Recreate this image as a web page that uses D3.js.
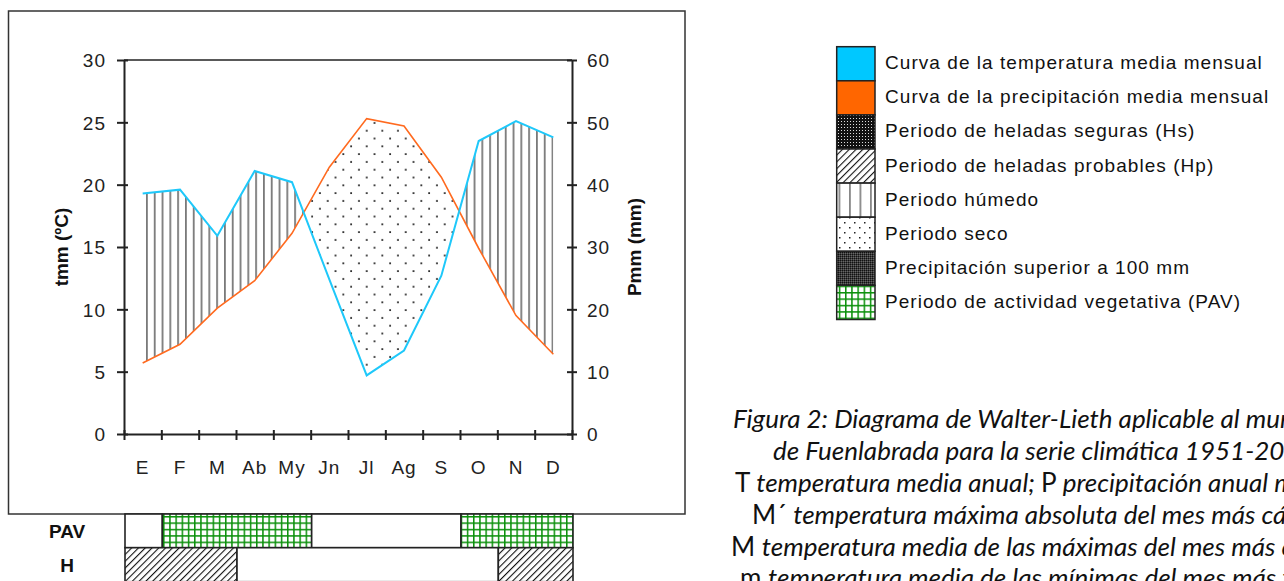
<!DOCTYPE html>
<html>
<head>
<meta charset="utf-8">
<script src="https://cdn.jsdelivr.net/npm/d3@7"></script>
<style>
  body { margin: 0; background: #fff; overflow: hidden; }
  svg { display: block; }
</style>
</head>
<body>
<svg id="chart" width="1284" height="581"></svg>
<script>
// Walter-Lieth diagram, Fuenlabrada

const months = ['E', 'F', 'M', 'Ab', 'My', 'Jn', 'Jl', 'Ag', 'S', 'O', 'N', 'D'];
// blue curve, left axis (tmm, ºC)
const temp = [19.3, 19.6, 15.9, 21.1, 20.2, 12.4, 4.7, 6.7, 12.7, 23.5, 25.1, 23.8];
// orange curve, right axis (Pmm, mm)
const precip = [11.4, 14.4, 20.2, 24.6, 32.2, 42.8, 50.6, 49.4, 41.2, 29.8, 19.0, 12.8];
const leftTicks = [0, 5, 10, 15, 20, 25, 30];
const rightTicks = [0, 10, 20, 30, 40, 50, 60];
// bottom strips: 1 = period active in that month
const pav = [0, 1, 1, 1, 1, 0, 0, 0, 0, 1, 1, 1];
const hp = [1, 1, 1, 0, 0, 0, 0, 0, 0, 0, 1, 1];

const legendLabels = [
  'Curva de la temperatura media mensual',
  'Curva de la precipitación media mensual',
  'Periodo de heladas seguras (Hs)',
  'Periodo de heladas probables (Hp)',
  'Periodo húmedo',
  'Periodo seco',
  'Precipitación superior a 100 mm',
  'Periodo de actividad vegetativa (PAV)'
];
const legendFills = ['#00c8ff', '#ff6600', 'url(#lgHs)', 'url(#hatch)', 'url(#lgHum)', 'url(#lgSeco)', 'url(#lgP100)', 'url(#grid)'];

const caption = [
  [['i', 'Figura 2: Diagrama de Walter-Lieth aplicable al municipio']],
  [['i', 'de Fuenlabrada para la serie climática 1951-2010']],
  [['n', 'T '], ['i', 'temperatura media anual; '], ['n', 'P '], ['i', 'precipitación anual media']],
  [['n', 'M´ '], ['i', 'temperatura máxima absoluta del mes más cálido']],
  [['n', 'M '], ['i', 'temperatura media de las máximas del mes más cálido']],
  [['n', 'm '], ['i', 'temperatura media de las mínimas del mes más frío']]
];
const captionX = [733, 773, 735, 752, 731, 740];

const svg = d3.select('#chart');
const font = "'Liberation Sans', Arial, sans-serif";

// scales
const x0 = 124, x1 = 572, yTop = 60, yBot = 434;
const xl = d3.scaleLinear().domain([0, 12]).range([x0, x1]);
const xb = d3.scaleBand().domain(months).range([x0, x1]);
const xc = i => xl(i + 0.5);
const yL = d3.scaleLinear().domain([0, 30]).range([yBot, yTop]);
const yR = d3.scaleLinear().domain([0, 60]).range([yBot, yTop]);

// patterns
const defs = svg.append('defs');

const pv = defs.append('pattern').attr('id', 'vlines').attr('patternUnits', 'userSpaceOnUse')
  .attr('x', 146).attr('y', 0).attr('width', 7.8).attr('height', 10);
pv.append('rect').attr('x', 0).attr('width', 1.8).attr('height', 10).attr('fill', '#7a7a7a');

const pd = defs.append('pattern').attr('id', 'dots').attr('patternUnits', 'userSpaceOnUse')
  .attr('x', 365.7).attr('y', 129.7).attr('width', 15.6).attr('height', 15.6);
pd.append('rect').attr('x', 0.2).attr('y', 0.2).attr('width', 1.7).attr('height', 1.7).attr('fill', '#111');
pd.append('rect').attr('x', 8).attr('y', 8).attr('width', 1.7).attr('height', 1.7).attr('fill', '#111');

const pg = defs.append('pattern').attr('id', 'grid').attr('patternUnits', 'userSpaceOnUse')
  .attr('x', 163).attr('y', 516).attr('width', 6.2).attr('height', 6.4);
pg.append('rect').attr('width', 6.2).attr('height', 6.4).attr('fill', '#fff');
pg.append('rect').attr('width', 1.5).attr('height', 6.4).attr('fill', '#0a900a');
pg.append('rect').attr('width', 6.2).attr('height', 1.5).attr('fill', '#0a900a');

const ph = defs.append('pattern').attr('id', 'hatch').attr('patternUnits', 'userSpaceOnUse')
  .attr('width', 4.8).attr('height', 10).attr('patternTransform', 'rotate(45)');
ph.append('rect').attr('width', 4.8).attr('height', 10).attr('fill', '#fff');
ph.append('rect').attr('width', 1.1).attr('height', 10).attr('fill', '#111');

const pHs = defs.append('pattern').attr('id', 'lgHs').attr('patternUnits', 'userSpaceOnUse')
  .attr('width', 3).attr('height', 3);
pHs.append('rect').attr('width', 3).attr('height', 3).attr('fill', '#111');
pHs.append('rect').attr('x', 1).attr('y', 1).attr('width', 1).attr('height', 1).attr('fill', '#ddd');

const pHum = defs.append('pattern').attr('id', 'lgHum').attr('patternUnits', 'userSpaceOnUse')
  .attr('x', 838.5).attr('width', 10.5).attr('height', 10);
pHum.append('rect').attr('width', 10.5).attr('height', 10).attr('fill', '#fff');
pHum.append('rect').attr('width', 1.8).attr('height', 10).attr('fill', '#888');

const pSeco = defs.append('pattern').attr('id', 'lgSeco').attr('patternUnits', 'userSpaceOnUse')
  .attr('x', 838).attr('y', 216).attr('width', 10).attr('height', 10);
pSeco.append('rect').attr('width', 10).attr('height', 10).attr('fill', '#fff');
pSeco.append('rect').attr('x', 1).attr('y', 1).attr('width', 1.5).attr('height', 1.5).attr('fill', '#222');
pSeco.append('rect').attr('x', 6).attr('y', 6).attr('width', 1.5).attr('height', 1.5).attr('fill', '#222');

const pP = defs.append('pattern').attr('id', 'lgP100').attr('patternUnits', 'userSpaceOnUse')
  .attr('width', 2).attr('height', 2);
pP.append('rect').attr('width', 2).attr('height', 2).attr('fill', '#3a3a3a');
pP.append('rect').attr('width', 1).attr('height', 1).attr('fill', '#111');
pP.append('rect').attr('x', 1).attr('y', 1).attr('width', 1).attr('height', 1).attr('fill', '#666');

// clip regions above / below the orange curve
const idx = d3.range(months.length);
const above = d3.area().x(i => xc(i)).y0(0).y1(i => yR(precip[i]));
const below = d3.area().x(i => xc(i)).y0(i => yR(precip[i])).y1(581);
defs.append('clipPath').attr('id', 'clipAbove').append('path').attr('d', above(idx));
defs.append('clipPath').attr('id', 'clipBelow').append('path').attr('d', below(idx));

// outer frame
svg.append('rect').attr('x', 8.5).attr('y', 11).attr('width', 676.5).attr('height', 503)
  .attr('fill', 'none').attr('stroke', '#333').attr('stroke-width', 1.5);

// humid / dry fills between the two curves
const between = d3.area().x(i => xc(i)).y0(i => yR(precip[i])).y1(i => yL(temp[i]));
svg.append('path').attr('d', between(idx)).attr('fill', 'url(#vlines)').attr('clip-path', 'url(#clipAbove)');
svg.append('path').attr('d', between(idx)).attr('fill', 'url(#dots)').attr('clip-path', 'url(#clipBelow)');

// curves
svg.append('path').datum(idx)
  .attr('d', d3.line().x(i => xc(i)).y(i => yR(precip[i])))
  .attr('fill', 'none').attr('stroke', '#ff6a1f').attr('stroke-width', 1.6);
svg.append('path').datum(idx)
  .attr('d', d3.line().x(i => xc(i)).y(i => yL(temp[i])))
  .attr('fill', 'none').attr('stroke', '#1ec8fa').attr('stroke-width', 2);

// plot box top line
svg.append('line').attr('x1', x0).attr('x2', x1).attr('y1', yTop).attr('y2', yTop)
  .attr('stroke', '#222').attr('stroke-width', 1.6);

function styleAxis(g) {
  g.select('.domain').attr('stroke', '#222').attr('stroke-width', 2);
  g.selectAll('.tick line').attr('stroke', '#222').attr('stroke-width', 2);
  g.selectAll('text').attr('font-family', font).attr('font-size', 19)
    .attr('letter-spacing', 1).attr('fill', '#222');
}

// left axis
const gl = svg.append('g').attr('transform', `translate(${x0},0)`)
  .call(d3.axisLeft(yL).tickValues(leftTicks).tickSize(7).tickPadding(11).tickSizeOuter(0));
styleAxis(gl);
gl.selectAll('.tick line').attr('x1', 4);
gl.selectAll('.tick text').attr('dy', '0.36em');

// right axis
const gr = svg.append('g').attr('transform', `translate(${x1},0)`)
  .call(d3.axisRight(yR).tickValues(rightTicks).tickSize(5).tickPadding(10).tickSizeOuter(0));
styleAxis(gr);
gr.selectAll('.tick line').attr('x1', -5);
gr.selectAll('.tick text').attr('dy', '0.36em');

// bottom axis: ticks at month boundaries, labels at month centres
const gb = svg.append('g').attr('transform', `translate(0,${yBot})`)
  .call(d3.axisBottom(xl).tickValues(d3.range(13)).tickFormat('').tickSize(6).tickSizeOuter(0));
styleAxis(gb);
gb.selectAll('.tick line').attr('y1', -4);
const gm = svg.append('g').attr('transform', `translate(0,${yBot})`)
  .call(d3.axisBottom(xb).tickSize(0).tickPadding(27));
gm.select('.domain').remove();
styleAxis(gm);

// axis titles
svg.append('text').attr('transform', 'translate(68,247) rotate(-90)')
  .attr('text-anchor', 'middle').attr('font-family', font).attr('font-weight', 'bold')
  .attr('font-size', 19).attr('fill', '#111').text('tmm (ºC)');
svg.append('text').attr('transform', 'translate(641,247) rotate(-90)')
  .attr('text-anchor', 'middle').attr('font-family', font).attr('font-weight', 'bold')
  .attr('font-size', 19).attr('fill', '#111').text('Pmm (mm)');

// bottom strips PAV / H
function runs(arr) {
  const out = [];
  arr.forEach((v, i) => {
    if (out.length && out[out.length - 1].v === v) out[out.length - 1].end = i + 1;
    else out.push({ v, start: i, end: i + 1 });
  });
  return out;
}
const strips = [
  { label: 'PAV', data: pav, fill: 'url(#grid)', y: 514, h: 33.7 },
  { label: 'H', data: hp, fill: 'url(#hatch)', y: 547.7, h: 34 }
];
strips.forEach(s => {
  svg.append('g').selectAll('rect').data(runs(s.data)).join('rect')
    .attr('x', d => xl(d.start) + 1).attr('width', d => xl(d.end) - xl(d.start))
    .attr('y', s.y).attr('height', s.h)
    .attr('fill', d => d.v ? s.fill : '#fff')
    .attr('stroke', '#222').attr('stroke-width', 1.6);
  svg.append('text').attr('x', 67).attr('y', s.y + s.h / 2 + 7)
    .attr('text-anchor', 'middle').attr('font-family', font).attr('font-weight', 'bold')
    .attr('font-size', 19).attr('fill', '#111').text(s.label);
});

// legend
const lgX = 836.7, lgY = 46.7, lgW = 38.3, lgH = 34.1;
const lg = svg.append('g');
lg.selectAll('rect').data(legendLabels).join('rect')
  .attr('x', lgX).attr('y', (d, i) => lgY + i * lgH).attr('width', lgW).attr('height', lgH)
  .attr('fill', (d, i) => legendFills[i]).attr('stroke', '#222').attr('stroke-width', 1.5);
lg.selectAll('text').data(legendLabels).join('text')
  .attr('x', 885).attr('y', (d, i) => lgY + i * lgH + 22.5)
  .attr('font-family', font).attr('font-size', 19).attr('letter-spacing', 1.05)
  .attr('fill', '#111').text(d => d);

// caption (runs past the right edge, as in the source figure)
const cap = svg.append('g').attr('font-family', "Lato, 'Open Sans', sans-serif")
  .attr('font-size', 26).attr('fill', '#111');
caption.forEach((line, li) => {
  const t = cap.append('text').attr('x', captionX[li]).attr('y', 428.3 + li * 31.8);
  line.forEach(([style, str]) => {
    t.append('tspan').attr('font-style', style === 'i' ? 'italic' : 'normal').text(str);
  });
});
</script>
</body>
</html>
